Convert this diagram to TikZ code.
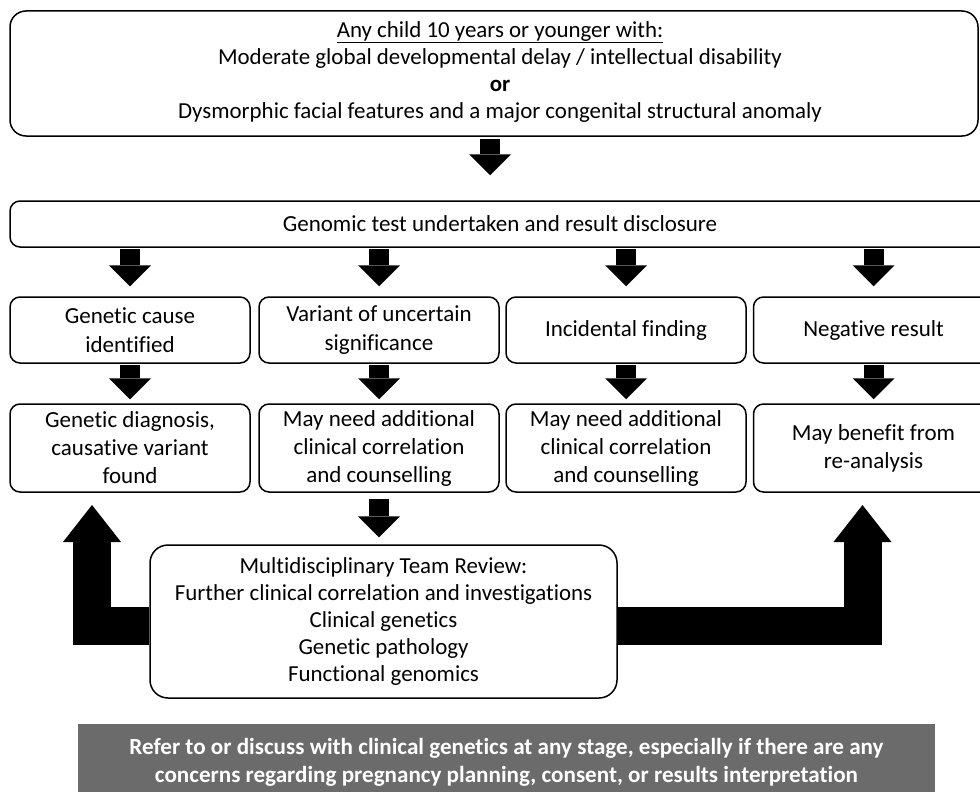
\documentclass[tikz,border=0pt]{standalone}
\usepackage{fontspec}
\setmainfont[Ligatures=NoCommon]{Carlito}
\usetikzlibrary{arrows.meta,calc}
\definecolor{notegray}{HTML}{6B6B6B}
\begin{document}
\begin{tikzpicture}[x=1pt,y=-1pt,
  box/.style={draw=black, line width=1.5pt, rounded corners=10pt, fill=white, align=center, inner sep=0pt},
  rowone/.style={box, minimum width=240pt, minimum height=66pt, font=\fontsize{23}{29}\selectfont},
  rowtwo/.style={box, minimum width=240pt, minimum height=88pt, font=\fontsize{23}{28}\selectfont},
  blockarrow/.style={line width=20pt, line cap=butt, -{Triangle[length=21pt,width=42pt,line width=0pt]}},
  bigarrow/.style={line width=38pt, line cap=butt, line join=miter, -{Triangle[length=37pt,width=58pt,line width=0pt]}},
]
\useasboundingbox (0,0) rectangle (980,792);
\clip (0,0) rectangle (980,792);
\fill[white] (0,0) rectangle (980,792);

% top box
\node[box, rounded corners=16pt, minimum width=968pt, minimum height=125pt] (top) at (494,73.5) {};
\node[font=\fontsize{22.9}{27}\selectfont, align=center, inner sep=0pt] (toptext) at (500,72.5)
  {\underline{\raisebox{0pt}[\height][3pt]{Any child 10 years or younger with:}}\\
   Moderate global developmental delay / intellectual disability\\
   \textbf{or}\\
   Dysmorphic facial features and a major congenital structural anomaly};

% genomic test
\node[box, minimum width=980pt, minimum height=46pt, font=\fontsize{23}{25}\selectfont] (g) at (500,224)
  {Genomic test undertaken and result disclosure};

% row 1
\node[rowone] (r1a) at (130,330) {Genetic cause\\identified};
\node[rowone] (r1b) at (379,330) {Variant of uncertain\\significance};
\node[rowone] (r1c) at (626,330) {Incidental finding};
\node[rowone] (r1d) at (873.5,330) {Negative result};

% row 2
\node[rowtwo] (r2a) at (130,448) {Genetic diagnosis,\\causative variant\\found};
\node[rowtwo] (r2b) at (379,448) {May need additional\\clinical correlation\\and counselling};
\node[rowtwo] (r2c) at (626,448) {May need additional\\clinical correlation\\and counselling};
\node[rowtwo] (r2d) at (873.5,448) {May benefit from\\re-analysis};

% MDT
\node[box, rounded corners=18pt, minimum width=467pt, minimum height=153pt, font=\fontsize{22.9}{27}\selectfont] (mdt) at (383.5,621.5)
  {Multidisciplinary Team Review:\\
   Further clinical correlation and investigations\\
   Clinical genetics\\
   Genetic pathology\\
   Functional genomics};

% note
\node[fill=notegray, minimum width=857pt, minimum height=76pt, inner sep=0pt, text=white,
      font=\bfseries\fontsize{23.1}{28}\selectfont, align=center] (note) at (506.5,762)
  {Refer to or discuss with clinical genetics at any stage, especially if there are any\\
   concerns regarding pregnancy planning, consent, or results interpretation};

% arrows
\draw[blockarrow, shorten <=2pt, shorten >=25pt] ([xshift=-4pt]top.south) -- ([xshift=-4pt]top.south |- g.north);
\foreach \n in {a,b,c,d}{
  \draw[blockarrow, shorten <=1pt, shorten >=10pt] (r1\n.north |- g.south) -- (r1\n.north);
  \draw[blockarrow, shorten <=1pt, shorten >=4pt] (r1\n.south) -- (r2\n.north);
}
\draw[blockarrow, shorten <=6pt, shorten >=7pt] (r2b.south) -- (r2b.south |- mdt.north);

\coordinate (lt) at (92,505);
\coordinate (rt) at (862.5,505);
\draw[bigarrow] ($(mdt.west)+(0,4.5)$) -| (lt);
\draw[bigarrow] ($(mdt.east)+(0,4.5)$) -| (rt);
\end{tikzpicture}
\end{document}
